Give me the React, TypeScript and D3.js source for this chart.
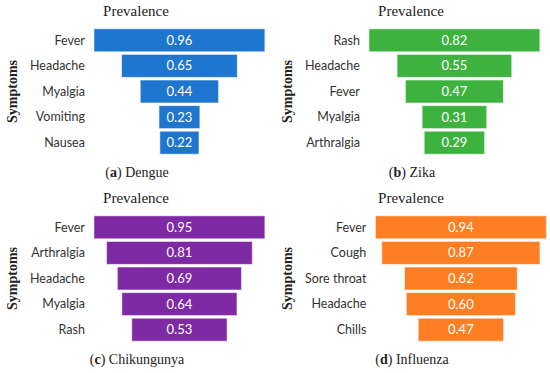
import { useMemo } from "react";
import * as d3 from "d3";

const dengueSymptoms = ["Fever", "Headache", "Myalgia", "Vomiting", "Nausea"];
const dengueValues = [0.96, 0.65, 0.44, 0.23, 0.22];

const zikaSymptoms = ["Rash", "Headache", "Fever", "Myalgia", "Arthralgia"];
const zikaValues = [0.82, 0.55, 0.47, 0.31, 0.29];

const chikSymptoms = ["Fever", "Arthralgia", "Headache", "Myalgia", "Rash"];
const chikValues = [0.95, 0.81, 0.69, 0.64, 0.53];

const fluSymptoms = ["Fever", "Cough", "Sore throat", "Headache", "Chills"];
const fluValues = [0.94, 0.87, 0.62, 0.6, 0.47];

const panelLetters = ["a", "b", "c", "d"];
const panelNames = ["Dengue", "Zika", "Chikungunya", "Influenza"];
const panelSymptoms = [dengueSymptoms, zikaSymptoms, chikSymptoms, fluSymptoms];
const panelValues = [dengueValues, zikaValues, chikValues, fluValues];

const colors = ["#1e76cf", "#3eb23e", "#7f2aa5", "#fd7e23"];

const W = 550;
const H = 373;
const PW = 275;
const PH = 187;
const LABEL_SIZE = 12.5;
const LABEL_FONT = `${LABEL_SIZE}px Lato`;
const SERIF = "Liberation Serif, DejaVu Serif, serif";
const SANS = "Lato, Open Sans, sans-serif";
const MAX_BAR = 171;

let ctx: CanvasRenderingContext2D | null = null;
function textWidth(s: string) {
  if (!ctx) ctx = document.createElement("canvas").getContext("2d");
  if (!ctx) return s.length * 6.5;
  ctx.font = LABEL_FONT;
  return ctx.measureText(s).width;
}

function Panel({ i }: { i: number }) {
  const symptoms = panelSymptoms[i];
  const values = panelValues[i];
  const col = i % 2;
  const row = Math.floor(i / 2);
  const x0 = col * PW;
  const y0 = row * PH;

  const labelW = useMemo(() => d3.max(symptoms, (s) => textWidth(s)) ?? 50, [symptoms]);
  const labelRight = 30 + labelW;
  const plotLeft = labelRight + 9;
  const cx = plotLeft + MAX_BAR / 2;

  const w = d3.scaleLinear().domain([0, d3.max(values) ?? 1]).range([0, MAX_BAR]);
  const y = d3
    .scaleBand<string>()
    .domain(symptoms)
    .range([27.5, 155.5])
    .paddingInner(0.1)
    .paddingOuter(0.05);

  return (
    <g transform={`translate(${x0},${y0})`}>
      <text x={136} y={16} textAnchor="middle" fontFamily={SERIF} fontSize={15} fill="#222">
        Prevalence
      </text>
      <text
        transform={`translate(17,${(27.5 + 155.5) / 2}) rotate(-90)`}
        textAnchor="middle"
        fontFamily={SERIF}
        fontWeight="bold"
        fontSize={14}
        fill="#222"
      >
        Symptoms
      </text>
      {symptoms.map((s, k) => {
        const bw = w(values[k]);
        const yy = y(s) ?? 0;
        const mid = yy + y.bandwidth() / 2;
        return (
          <g key={s}>
            <rect
              x={cx - bw / 2}
              y={yy}
              width={bw}
              height={y.bandwidth()}
              fill={colors[i]}
              stroke="#fff"
              strokeOpacity={0.6}
              strokeWidth={1}
            />
            <text
              x={labelRight}
              y={mid}
              dy="0.35em"
              textAnchor="end"
              fontFamily={SANS}
              fontSize={LABEL_SIZE}
              fill="#333"
            >
              {s}
            </text>
            <text
              x={cx}
              y={mid}
              dy="0.35em"
              textAnchor="middle"
              fontFamily={SANS}
              fontSize={13}
              fill="#fff"
            >
              {values[k].toFixed(2)}
            </text>
          </g>
        );
      })}
      <text x={137} y={177} textAnchor="middle" fontFamily={SERIF} fontSize={14} fill="#222">
        (<tspan fontWeight="bold">{panelLetters[i]}</tspan>) {panelNames[i]}
      </text>
    </g>
  );
}

export default function App() {
  return (
    <svg
      width={W}
      height={H}
      viewBox={`0 0 ${W} ${H}`}
      style={{ position: "absolute", left: 0, top: 0, background: "#fff" }}
    >
      <rect width={W} height={H} fill="#fff" />
      {panelLetters.map((_, i) => (
        <Panel key={i} i={i} />
      ))}
    </svg>
  );
}
